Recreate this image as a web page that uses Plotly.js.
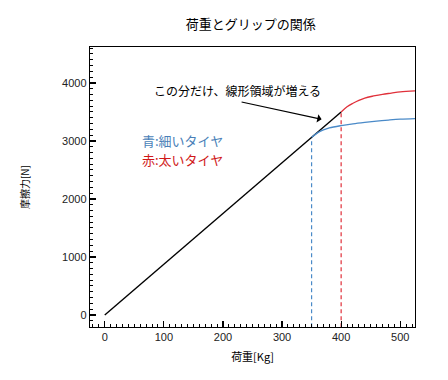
<!DOCTYPE html>
<html><head><meta charset="utf-8">
<script src="https://cdn.plot.ly/plotly-3.0.1.min.js"></script>
<style>html,body{margin:0;padding:0;background:#fff}#chart{width:448px;height:380px}</style>
</head><body><div id="chart"></div>
<script>
// Data
const linearX = [0, 400];
const linearY = [0, 3500];
const thinX = [350, 360, 370, 380, 400, 420, 440, 460, 480, 500, 525];
const thinY = [3062, 3140, 3190, 3225, 3265, 3295, 3320, 3342, 3360, 3375, 3385];
const wideX = [400, 410, 420, 430, 440, 455, 470, 485, 500, 525];
const wideY = [3500, 3590, 3650, 3700, 3740, 3776, 3805, 3825, 3845, 3862];
const thinLimitX = [350, 350];
const thinLimitY = [-210, 3062];
const wideLimitX = [400, 400];
const wideLimitY = [-210, 3500];
const xRange = [-25, 525];
const yRange = [-207, 4620];
const yTickStep = 1000;
const xTickStep = 100;
const yMinorStep = 100;
const xMinorStep = 10;

const FONT = '"Noto Sans CJK JP", "Noto Sans", sans-serif';
const BLUE = '#4a8ac8';
const RED = '#e0303a';

const traces = [
  {x: thinLimitX, y: thinLimitY, mode: 'lines', line: {color: BLUE, width: 1.2, dash: '4px,3px'}, hoverinfo: 'skip'},
  {x: wideLimitX, y: wideLimitY, mode: 'lines', line: {color: RED, width: 1.2, dash: '4px,3px'}, hoverinfo: 'skip'},
  {x: linearX, y: linearY, mode: 'lines', line: {color: '#000', width: 1.4}},
  {x: thinX, y: thinY, mode: 'lines', line: {color: BLUE, width: 1.3, shape: 'spline'}},
  {x: wideX, y: wideY, mode: 'lines', line: {color: RED, width: 1.3, shape: 'spline'}},
  // invisible trace to activate the minor-tick axes
  {x: linearX, y: linearY, xaxis: 'x2', yaxis: 'y2', mode: 'lines', line: {width: 0}, opacity: 0, hoverinfo: 'skip'}
];

const tickFont = {family: '"Liberation Sans", Arial, sans-serif', size: 11, color: '#222'};

const layout = {
  width: 448, height: 380,
  margin: {l: 90, r: 33, t: 47, b: 53},
  paper_bgcolor: '#fff', plot_bgcolor: '#fff',
  showlegend: false,
  font: {family: FONT, color: '#000'},
  title: {text: '荷重とグリップの関係', font: {family: FONT, size: 13, color: '#000'}, x: 0.56, xanchor: 'center', y: 0.935, yanchor: 'middle'},
  xaxis: {
    showgrid: false, zeroline: false, showline: true, linecolor: 'black', linewidth: 1.2, mirror: true,
    ticks: 'inside', ticklen: 6, tickcolor: 'black', tickwidth: 1.2,
    range: xRange, dtick: xTickStep, tick0: 0,
    tickfont: tickFont,
    title: {text: '荷重[Kg]', font: {family: FONT, size: 11, color: '#000'}, standoff: 10}
  },
  yaxis: {
    showgrid: false, zeroline: false, showline: true, linecolor: 'black', linewidth: 1.2, mirror: true,
    ticks: 'inside', ticklen: 6, tickcolor: 'black', tickwidth: 1.2,
    range: yRange, dtick: yTickStep, tick0: 0,
    tickfont: tickFont,
    title: {text: '摩擦力[N]', font: {family: FONT, size: 10, color: '#000'}, standoff: 30}
  },
  xaxis2: {
    overlaying: 'x', anchor: 'y', side: 'bottom', range: xRange, dtick: xMinorStep, tick0: 0,
    showgrid: false, zeroline: false, showline: false, showticklabels: false,
    ticks: 'inside', ticklen: 3, tickcolor: 'black', tickwidth: 1
  },
  yaxis2: {
    overlaying: 'y', anchor: 'x', side: 'left', range: yRange, dtick: yMinorStep, tick0: 0,
    showgrid: false, zeroline: false, showline: false, showticklabels: false,
    ticks: 'inside', ticklen: 3, tickcolor: 'black', tickwidth: 1
  },
  annotations: [
    {x: 367, y: 3374, ax: 229, ay: 3678, xref: 'x', yref: 'y', axref: 'x', ayref: 'y',
     text: '', showarrow: true, arrowhead: 1, arrowsize: 1.2, arrowwidth: 1.2, arrowcolor: '#000'},
    {x: 80, y: 3870, xref: 'x', yref: 'y', text: 'この分だけ、線形領域が増える', showarrow: false,
     xanchor: 'left', yanchor: 'middle', font: {family: FONT, size: 12, color: '#000'}},
    {x: 60, y: 3010, xref: 'x', yref: 'y', text: '青:細いタイヤ', showarrow: false,
     xanchor: 'left', yanchor: 'middle', font: {family: FONT, size: 13, color: '#4a7fb8'}},
    {x: 60, y: 2680, xref: 'x', yref: 'y', text: '赤:太いタイヤ', showarrow: false,
     xanchor: 'left', yanchor: 'middle', font: {family: FONT, size: 13, color: '#d01818'}}
  ]
};

Plotly.newPlot('chart', traces, layout, {displayModeBar: false, staticPlot: true});
</script></body></html>
